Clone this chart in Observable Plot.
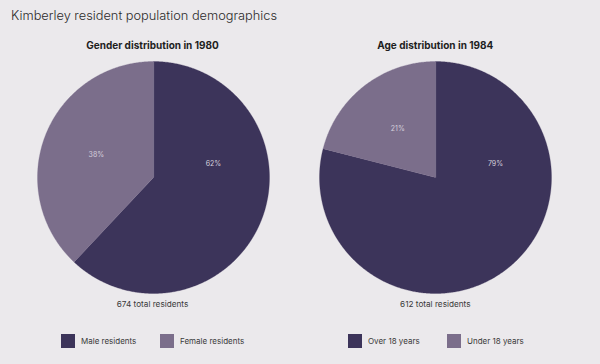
<!DOCTYPE html>
<html>
<head>
<meta charset="utf-8">
<script src="https://cdn.jsdelivr.net/npm/d3@7"></script>
<script src="https://cdn.jsdelivr.net/npm/@observablehq/plot@0.6"></script>
<style>
  html, body { margin: 0; padding: 0; background: #ebe9ec; }
  #root { position: relative; width: 600px; height: 364px; overflow: hidden; font-family: Inter, "Noto Sans", sans-serif; color: #333; }
  .title { position: absolute; left: 11px; top: 8px; font-size: 12.8px; font-weight: 300; color: #2b2b2b; white-space: nowrap; }
  .sub { position: absolute; width: 300px; text-align: center; font-size: 10px; font-weight: 700; color: #1e1e1e; top: 39px; }
  .cap { position: absolute; width: 300px; text-align: center; font-size: 8.2px; color: #3a3a3a; top: 299px; }
  .pie { position: absolute; top: 57px; }
  .leg { position: absolute; top: 334px; display: flex; align-items: center; font-size: 8px; color: #3a3a3a; }
  .sw { width: 14px; height: 14px; margin-right: 6px; }
</style>
</head>
<body>
<div id="root"></div>
<script>
const chartTitle = "Kimberley resident population demographics";
const pieTitles = ["Gender distribution in 1980", "Age distribution in 1984"];
const genderLabels = ["Male residents", "Female residents"];
const genderValues = [62, 38];
const ageLabels = ["Over 18 years", "Under 18 years"];
const ageValues = [79, 21];
const totals = [674, 612];
const colors = ["#3c345a", "#7b6e8b"];

const root = document.getElementById("root");
const t = document.createElement("div");
t.className = "title"; t.textContent = chartTitle; root.appendChild(t);

const W = 300, H = 240, R = 116;
const pies = [
  {labels: genderLabels, values: genderValues, cx: 152.5, legX: [61, 160]},
  {labels: ageLabels, values: ageValues, cx: 435.3, legX: [348, 447]}
];

pies.forEach((p, i) => {
  const total = d3.sum(p.values);
  const arcs = d3.pie().sort(null)(p.values);
  const pts = [];
  const labs = [];
  arcs.forEach((a, j) => {
    const key = p.labels[j];
    pts.push({key, x: 0, y: 0});
    const n = Math.max(2, Math.ceil((a.endAngle - a.startAngle) / (Math.PI / 360)));
    for (let k = 0; k <= n; k++) {
      const ang = a.startAngle + (a.endAngle - a.startAngle) * k / n;
      pts.push({key, x: Math.sin(ang), y: Math.cos(ang)});
    }
    const share = p.values[j] / total;
    // large slices: label in the middle of the first quarter-to-half turn; small: mid-angle
    const la = share > 0.5 ? a.startAngle + Math.PI * 0.43 : (a.startAngle + a.endAngle) / 2;
    const lr = 0.53;
    labs.push({x: lr * Math.sin(la), y: lr * Math.cos(la), text: Math.round(share * 100) + "%"});
  });

  const svg = Plot.plot({
    width: W, height: H, margin: 0,
    style: {background: "transparent", overflow: "visible"},
    x: {domain: [-1, 1], range: [W / 2 - R, W / 2 + R], axis: null},
    y: {domain: [-1, 1], range: [H / 2 + R, H / 2 - R], axis: null},
    color: {domain: p.labels, range: colors},
    marks: [
      Plot.line(pts, {x: "x", y: "y", z: "key", fill: "key", stroke: "key", strokeWidth: 0.3, curve: "linear-closed"}),
      Plot.text(labs, {x: "x", y: "y", text: "text", fill: "#d4cfdb", fontSize: 7, fontFamily: "Inter, sans-serif"})
    ]
  });
  svg.classList.add("pie");
  svg.style.left = (p.cx - W / 2) + "px";
  root.appendChild(svg);

  const s = document.createElement("div");
  s.className = "sub"; s.style.left = (p.cx - 150) + "px"; s.textContent = pieTitles[i];
  root.appendChild(s);

  const c = document.createElement("div");
  c.className = "cap"; c.style.left = (p.cx - 150) + "px"; c.textContent = totals[i] + " total residents";
  root.appendChild(c);

  p.labels.forEach((lab, j) => {
    const l = document.createElement("div");
    l.className = "leg"; l.style.left = p.legX[j] + "px";
    const sw = document.createElement("div");
    sw.className = "sw"; sw.style.background = colors[j];
    const tx = document.createElement("span"); tx.textContent = lab;
    l.appendChild(sw); l.appendChild(tx);
    root.appendChild(l);
  });
});
</script>
</body>
</html>
